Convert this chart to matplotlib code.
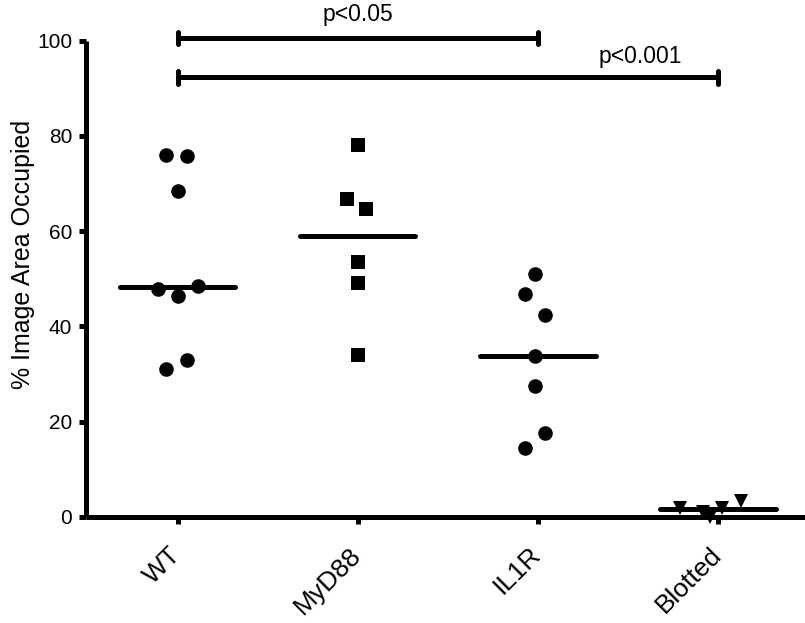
import matplotlib
matplotlib.use("Agg")
import matplotlib.pyplot as plt
import matplotlib.transforms as mtransforms
import numpy as np

plt.rcParams['font.family'] = ['Liberation Sans', 'DejaVu Sans']

categories = ["WT", "MyD88", "IL1R", "Blotted"]

wt_values = [76.0, 75.8, 68.4, 47.9, 46.3, 48.4, 31.0, 32.9]
wt_offsets = [-0.065, 0.05, 0.0, -0.11, 0.0, 0.11, -0.065, 0.05]

myd88_values = [78.1, 66.7, 64.7, 53.5, 49.1, 34.0]
myd88_offsets = [0.0, -0.06, 0.045, 0.0, 0.0, 0.0]

il1r_values = [50.9, 46.7, 42.3, 33.7, 27.4, 17.6, 14.5]
il1r_offsets = [-0.015, -0.07, 0.04, -0.015, -0.015, 0.04, -0.07]

blotted_values = [1.9, 1.0, 0.0, 1.9, 3.3]
blotted_offsets = [-0.21, -0.085, -0.045, 0.02, 0.13]

median_values = [48.3, 58.9, 33.7, 1.6]

yticks = [0, 20, 40, 60, 80, 100]
ylabel = "% Image Area Occupied"

sig_labels = ["p<0.05", "p<0.001"]
sig_pairs = [(0, 2), (0, 3)]
sig_heights = [100.6, 92.3]

W, H = 805, 623
fig = plt.figure(figsize=(W / 100, H / 100), dpi=100)
ax = fig.add_axes([86 / W, (H - 516.7) / H, 722 / W, 476 / H])
ax.set_xlim(-0.51, 3.5)
ax.set_ylim(0, 100)

groups = [
    (wt_values, wt_offsets, 'o', 10.5),
    (myd88_values, myd88_offsets, 's', 9.5),
    (il1r_values, il1r_offsets, 'o', 10.5),
    (blotted_values, blotted_offsets, 'v', 9.5),
]
for i, (vals, offs, mk, ms) in enumerate(groups):
    xs = i + np.array(offs)
    ax.plot(xs, vals, linestyle='none', marker=mk, markersize=ms,
            color='black', markeredgewidth=0, clip_on=False, zorder=3)

for i, m in enumerate(median_values):
    ax.plot([i - 0.32, i + 0.32], [m, m], color='black', lw=3.6,
            solid_capstyle='round', clip_on=False, zorder=4)

for (a, b), h in zip(sig_pairs, sig_heights):
    ax.plot([a, b], [h, h], color='black', lw=3.6, clip_on=False,
            solid_capstyle='butt', zorder=4)
    for xe in (a, b):
        ax.plot([xe, xe], [h - 1.3, h + 1.3], color='black', lw=3.6,
                clip_on=False, solid_capstyle='round', zorder=4)

ax.text(1.0, 105.4, sig_labels[0], ha='center', va='center', fontsize=16.5)
ax.text(2.57, 96.6, sig_labels[1], ha='center', va='center', fontsize=16.5)

for s in ['top', 'right']:
    ax.spines[s].set_visible(False)
for s in ['left', 'bottom']:
    ax.spines[s].set_linewidth(3.6)
    ax.spines[s].set_capstyle('butt')
ax.spines['bottom'].set_zorder(5)

ax.set_yticks(yticks)
ax.set_yticklabels([str(t) for t in yticks], fontsize=15)
ax.set_xticks(range(len(categories)))
ax.set_xticklabels([])
ax.tick_params(axis='both', direction='out', length=5, width=3.6, pad=5)

offset = mtransforms.ScaledTranslation(-9 / 100, -26 / 100, fig.dpi_scale_trans)
for i, c in enumerate(categories):
    ax.text(i, 0, c, transform=ax.get_xaxis_transform() + offset,
            fontsize=19, rotation=45, ha='right', va='top',
            rotation_mode='anchor', clip_on=False)

ax.set_ylabel(ylabel, fontsize=18)
ax.yaxis.set_label_coords(-0.07, 0.55)

fig.savefig("out.png", dpi=100)
